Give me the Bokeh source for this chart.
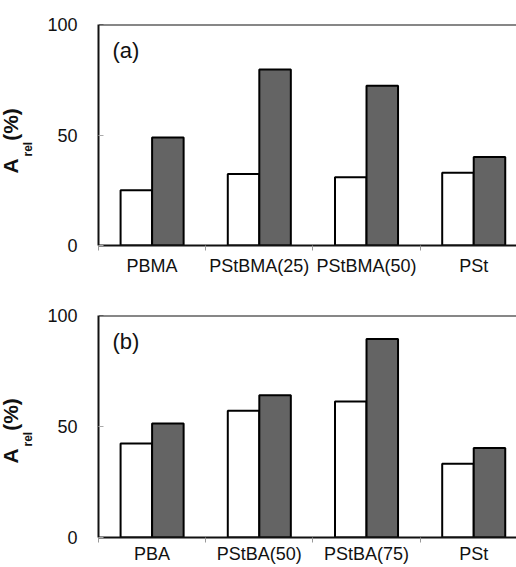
import numpy as np
from bokeh.plotting import figure
from bokeh.layouts import column, row
from bokeh.models import (ColumnDataSource, Range1d, FixedTicker, Span, Label, Title)
from bokeh.embed import file_html
from bokeh.resources import INLINE

# ---- data ----
cats_a = ["PBMA", "PStBMA(25)", "PStBMA(50)", "PSt"]
white_a = [25.0, 32.4, 30.9, 32.9]
grey_a = [48.9, 79.6, 72.3, 40.1]

cats_b = ["PBA", "PStBA(50)", "PStBA(75)", "PSt"]
white_b = [42.3, 57.1, 61.3, 33.2]
grey_b = [51.4, 64.1, 89.4, 40.3]

y_ticks = [0, 50, 100]

FONT = "Liberation Sans"
BAR_W = 0.294
OFF = 0.147
LEFT_W = 44


def title_strip(height, b_top, b_bottom, off_a, off_rel):
    """Narrow figure whose left titles form the rotated y-axis title A_rel (%)."""
    t = figure(width=LEFT_W, height=height, output_backend="svg", toolbar_location=None,
               x_range=Range1d(0, 1), y_range=Range1d(0, 100),
               x_axis_location=None, y_axis_location=None,
               min_border_left=0, min_border_right=0,
               min_border_top=b_top, min_border_bottom=b_bottom)
    t.outline_line_color = None
    t.xgrid.grid_line_color = None
    t.ygrid.grid_line_color = None
    t.add_layout(Title(text="rel", align="left", offset=off_rel, standoff=0,
                       text_font=FONT, text_font_size="12px", text_font_style="bold",
                       text_color="#111111"), "left")
    t.add_layout(Title(text="A\u00a0\u00a0\u00a0(%)", align="left", offset=off_a, standoff=-7,
                       text_font=FONT, text_font_size="21px", text_font_style="bold",
                       text_color="#111111"), "left")
    return t


def make_panel(cats, white, grey, tag, height, b_top, b_bottom, label_standoff):
    p = figure(width=516 - LEFT_W, height=height, output_backend="svg", toolbar_location=None,
               x_range=Range1d(0, 3.899), y_range=Range1d(0, 100),
               min_border_left=91 - LEFT_W, min_border_right=0,
               min_border_top=b_top, min_border_bottom=b_bottom)
    p.outline_line_color = None
    p.xgrid.grid_line_color = None
    p.ygrid.grid_line_color = None

    idx = np.arange(len(cats))
    src = ColumnDataSource(dict(xw=idx + 0.5 - OFF, xg=idx + 0.5 + OFF,
                                white=white, grey=grey))
    p.vbar(x="xw", top="white", width=BAR_W, bottom=0, source=src,
           fill_color="white", line_color="black", line_width=2)
    p.vbar(x="xg", top="grey", width=BAR_W, bottom=0, source=src,
           fill_color="#646464", line_color="black", line_width=2)

    # top frame line
    p.add_layout(Span(location=100, dimension="width", line_color="#111111", line_width=2))

    # x axis
    xa = p.xaxis[0]
    xa.ticker = FixedTicker(ticks=list(idx + 0.5), minor_ticks=list(range(len(cats) + 1)))
    xa.major_label_overrides = {float(i + 0.5): c for i, c in enumerate(cats)}
    xa.major_tick_line_color = None
    xa.major_tick_out = 0
    xa.major_tick_in = 0
    xa.minor_tick_line_color = "#999999"
    xa.minor_tick_out = 5
    xa.minor_tick_in = 0
    xa.axis_line_color = "#111111"
    xa.axis_line_width = 2
    xa.axis_label_standoff = 0
    xa.major_label_text_font = FONT
    xa.major_label_text_font_size = "18px"
    xa.major_label_text_color = "#111111"
    xa.major_label_standoff = label_standoff

    # y axis
    ya = p.yaxis[0]
    ya.ticker = FixedTicker(ticks=y_ticks)
    ya.minor_tick_line_color = None
    ya.major_tick_out = 0
    ya.major_tick_in = 5
    ya.major_tick_line_color = "#aaaaaa"
    ya.axis_line_color = "#111111"
    ya.axis_line_width = 2
    ya.major_label_text_font = FONT
    ya.major_label_text_font_size = "18px"
    ya.major_label_text_color = "#111111"
    ya.major_label_standoff = 21

    # panel tag
    p.add_layout(Label(x=14, y=88.3, x_units="screen", y_units="data", text=tag,
                       text_font=FONT, text_font_size="22px", text_align="left",
                       text_baseline="middle", text_color="#111111"))
    return p


H1, T1, B1 = 280, 24, 35
H2, T2, B2 = 287, 35, 30
p1 = make_panel(cats_a, white_a, grey_a, "(a)", H1, T1, B1, 5)
p2 = make_panel(cats_b, white_b, grey_b, "(b)", H2, T2, B2, 1)
t1 = title_strip(H1, T1, B1, 72, 89)
t2 = title_strip(H2, T2, B2, 74, 91)

layout = column(row(t1, p1, spacing=0), row(t2, p2, spacing=0), spacing=0)
open("out.html", "w").write(file_html(layout, INLINE))
